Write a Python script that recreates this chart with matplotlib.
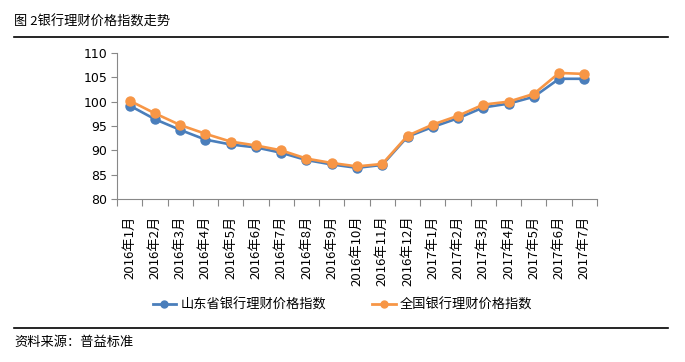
import matplotlib.pyplot as plt
from matplotlib.lines import Line2D

plt.rcParams['font.family'] = ['DejaVu Sans', 'Noto Sans CJK SC']

# Data
months = ["2016年1月", "2016年2月", "2016年3月", "2016年4月", "2016年5月",
          "2016年6月", "2016年7月", "2016年8月", "2016年9月", "2016年10月",
          "2016年11月", "2016年12月", "2017年1月", "2017年2月", "2017年3月",
          "2017年4月", "2017年5月", "2017年6月", "2017年7月"]
shandong = [99.2, 96.4, 94.2, 92.2, 91.2, 90.6, 89.5, 88.0, 87.1, 86.4,
            87.0, 92.8, 94.8, 96.6, 98.8, 99.6, 101.0, 104.7, 104.7]
national = [100.2, 97.6, 95.2, 93.4, 91.8, 91.0, 90.0, 88.3, 87.4, 86.7,
            87.2, 93.0, 95.3, 97.1, 99.4, 100.0, 101.6, 105.9, 105.7]
yticks = [80, 85, 90, 95, 100, 105, 110]

blue = "#4A7EBB"
orange = "#F79646"
cjk = ['Noto Sans CJK SC', 'DejaVu Sans']

fig = plt.figure(figsize=(6.85, 3.62), dpi=100)
ax = fig.add_axes([117 / 685, 1 - 199 / 362, 480 / 685, 146 / 362])

x = list(range(len(months)))
ax.plot(x, shandong, color=blue, lw=1.9, marker="o", ms=6.5, zorder=3)
ax.plot(x, national, color=orange, lw=1.9, marker="o", ms=6.5, zorder=4)

ax.set_xlim(-0.5, len(months) - 0.5)
ax.set_ylim(80, 110)
ax.set_yticks(yticks)
ax.tick_params(axis="y", labelsize=9, length=4, color="#888888", pad=3)

ax.set_xticks([i - 0.5 for i in range(len(months) + 1)])
ax.set_xticklabels([])
ax.set_xticks(x, minor=True)
ax.set_xticklabels(months, minor=True, rotation=90, fontsize=9.5, family=cjk)
ax.tick_params(axis="x", which="major", length=5, color="#888888")
ax.tick_params(axis="x", which="minor", length=0, pad=12)

for s in ["top", "right"]:
    ax.spines[s].set_visible(False)
for s in ["left", "bottom"]:
    ax.spines[s].set_color("#888888")

# Title, rules and source
fig.text(14 / 685, 1 - 22 / 362, "图 2银行理财价格指数走势", fontsize=9.5,
         family=cjk, va="center", ha="left")
fig.add_artist(Line2D([14 / 685, 668 / 685], [1 - 37 / 362, 1 - 37 / 362],
                      color="black", lw=1.2))
fig.add_artist(Line2D([14 / 685, 668 / 685], [1 - 328 / 362, 1 - 328 / 362],
                      color="black", lw=1.2))
fig.text(14 / 685, 1 - 342 / 362, "资料来源：普益标准", fontsize=9.5,
         family=cjk, va="center", ha="left")

# Legend
handles = [Line2D([], [], color=blue, lw=2, marker="o", ms=5),
           Line2D([], [], color=orange, lw=2, marker="o", ms=5)]
fig.legend(handles, ["山东省银行理财价格指数", "全国银行理财价格指数"],
           loc="center", bbox_to_anchor=(0.5, 1 - 305 / 362), ncol=2,
           frameon=False, prop={"family": cjk, "size": 9.5},
           handlelength=1.8, handletextpad=0.3, columnspacing=3.5)

fig.savefig("out.png", dpi=100)
